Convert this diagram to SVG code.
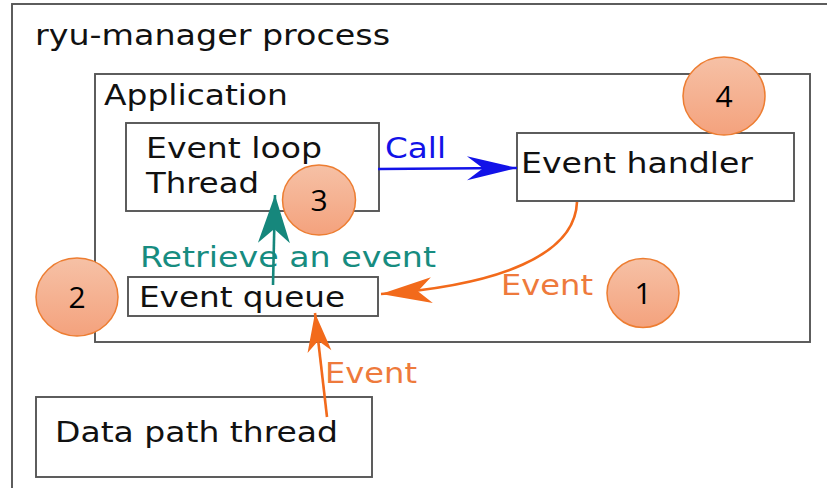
<svg xmlns="http://www.w3.org/2000/svg" width="827" height="488" viewBox="0 0 827 488">
  <style>
    .box { fill: #ffffff; stroke: #555555; stroke-width: 1.9; }
    .lbl { font-family: "DejaVu Sans", "Liberation Sans", sans-serif; font-size: 28px; fill: #111111; }
    .num { font-family: "Open Sans", "DejaVu Sans", sans-serif; font-size: 30px; fill: #000000; text-anchor: middle; }
    .badge { fill: url(#badgeFill); stroke: #ED7D31; stroke-width: 1.5; }
    .conn { fill: none; stroke-width: 2.6; }
  </style>
  <defs>
    <linearGradient id="badgeFill" x1="0" y1="0" x2="0" y2="1">
      <stop offset="0" stop-color="#F6C1A6"/>
      <stop offset="1" stop-color="#F4A27D"/>
    </linearGradient>
    <marker id="headBlue" viewBox="-52 -14 54 28" refX="0" refY="0" markerWidth="54" markerHeight="28" orient="auto" markerUnits="userSpaceOnUse">
      <path d="M0,0 L-50,-12 L-34,0 L-50,12 Z" fill="#1212E8"/>
    </marker>
    <marker id="headTeal" viewBox="-52 -18 54 36" refX="0" refY="0" markerWidth="54" markerHeight="36" orient="auto" markerUnits="userSpaceOnUse">
      <path d="M0,0 L-48,-16 L-34,0 L-48,16 Z" fill="#16877C"/>
    </marker>
    <marker id="headOrange" viewBox="-54 -15 56 30" refX="0" refY="0" markerWidth="56" markerHeight="30" orient="auto" markerUnits="userSpaceOnUse">
      <path d="M0,0 L-51,-13 L-37,0 L-51,13 Z" fill="#F26A1B"/>
    </marker>
    <marker id="headOrangeSmall" viewBox="-42 -14 44 28" refX="0" refY="0" markerWidth="44" markerHeight="28" orient="auto" markerUnits="userSpaceOnUse">
      <path d="M0,0 L-39,-12 L-28,0 L-39,12 Z" fill="#F26A1B"/>
    </marker>
  </defs>

  <rect width="827" height="488" fill="#ffffff"/>

  <!-- ryu-manager process container -->
  <g id="process">
    <rect class="box" x="12" y="4" width="840" height="500"/>
    <text class="lbl" x="35" y="45" font-size="30" textLength="355" lengthAdjust="spacingAndGlyphs">ryu-manager process</text>
  </g>

  <!-- Application container -->
  <g id="application">
    <rect class="box" x="95" y="74" width="715" height="268"/>
    <text class="lbl" x="104" y="105" textLength="184" lengthAdjust="spacingAndGlyphs">Application</text>
  </g>

  <g id="event-loop-thread">
    <rect class="box" x="126" y="123" width="253" height="88"/>
    <text class="lbl" x="146" y="158" textLength="176" lengthAdjust="spacingAndGlyphs">Event loop</text>
    <text class="lbl" x="146" y="193" textLength="113" lengthAdjust="spacingAndGlyphs">Thread</text>
  </g>

  <g id="event-handler">
    <rect class="box" x="517" y="133" width="277" height="68"/>
    <text class="lbl" x="521" y="173" textLength="232" lengthAdjust="spacingAndGlyphs">Event handler</text>
  </g>

  <g id="event-queue">
    <rect class="box" x="128" y="277" width="250" height="39"/>
    <text class="lbl" x="139" y="307" textLength="206" lengthAdjust="spacingAndGlyphs">Event queue</text>
  </g>

  <g id="data-path-thread">
    <rect class="box" x="36" y="397" width="336" height="80"/>
    <text class="lbl" x="55" y="442" textLength="283" lengthAdjust="spacingAndGlyphs">Data path thread</text>
  </g>

  <!-- Connector labels -->
  <g id="connector-labels">
    <text class="lbl" x="385" y="158" style="fill:#1212E8" textLength="61" lengthAdjust="spacingAndGlyphs">Call</text>
    <text class="lbl" x="140" y="267" style="fill:#178C80" textLength="296" lengthAdjust="spacingAndGlyphs">Retrieve an event</text>
    <text class="lbl" x="501" y="295" style="fill:#EE7A3C" textLength="92" lengthAdjust="spacingAndGlyphs">Event</text>
    <text class="lbl" x="325" y="383" style="fill:#EE7A3C" textLength="92" lengthAdjust="spacingAndGlyphs">Event</text>
  </g>

  <!-- Connectors -->
  <g id="connectors">
    <path class="conn" d="M378,169 L517,168" stroke="#1212E8" marker-end="url(#headBlue)"/>
    <path class="conn" d="M273,285 L275,195" stroke="#16877C" stroke-width="3" marker-end="url(#headTeal)"/>
    <path class="conn" d="M577,202 C575,255 500,285 381,294" stroke="#F26A1B" marker-end="url(#headOrange)"/>
    <path class="conn" d="M327,417 L315,313" stroke="#F26A1B" marker-end="url(#headOrangeSmall)"/>
  </g>

  <!-- Numbered badges -->
  <g id="badge-1">
    <ellipse class="badge" cx="643" cy="293" rx="36" ry="34.5"/>
    <text class="num" x="643" y="304">1</text>
  </g>
  <g id="badge-2">
    <ellipse class="badge" cx="77" cy="297" rx="41" ry="39"/>
    <text class="num" x="77" y="308">2</text>
  </g>
  <g id="badge-3">
    <ellipse class="badge" cx="319" cy="200" rx="36.5" ry="35"/>
    <text class="num" x="319" y="211">3</text>
  </g>
  <g id="badge-4">
    <ellipse class="badge" cx="724" cy="96" rx="41" ry="39"/>
    <text class="num" x="724" y="107">4</text>
  </g>
</svg>
